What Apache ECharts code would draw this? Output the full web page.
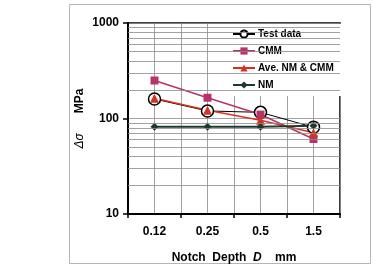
<!DOCTYPE html>
<html>
<head>
<meta charset="utf-8">
<script src="https://cdn.jsdelivr.net/npm/echarts@6/dist/echarts.min.js"></script>
<style>
  html, body { margin: 0; padding: 0; background: #fff; }
  #chart { width: 373px; height: 275px; }
</style>
</head>
<body>
<div id="chart"></div>
<script>
// data
var depths = ['0.12', '0.25', '0.5', '1.5'];
var testData = [160, 120, 116, 81];
var cmm = [250, 165, 110, 61];
var aveNmCmm = [163, 122, 96, 71];
var nm = [82, 82, 82, 84];
// minor log gridlines
var minorTicks = [20, 30, 40, 50, 60, 70, 80, 90, 200, 300, 400, 500, 600, 700, 800, 900];

var font = 'Arial, "Liberation Sans", sans-serif';

var myChart = echarts.init(document.getElementById('chart'));

var option = {
    animation: false,
    backgroundColor: '#fff',
    graphic: [{
        type: 'rect',
        shape: { x: 69.5, y: 4.5, width: 301, height: 259 },
        style: { fill: 'none', stroke: '#b5b5b5', lineWidth: 1 },
        z: -1
    }],
    grid: {
        left: 128, right: 33, top: 23, bottom: 61,
        show: true, borderColor: '#000', borderWidth: 1.5,
        containLabel: false
    },
    legend: {
        orient: 'vertical',
        left: 228, top: 24,
        padding: [5, 12, 6, 4],
        itemGap: 7,
        itemWidth: 22,
        itemHeight: 9,
        backgroundColor: '#fff',
        textStyle: { fontFamily: font, fontWeight: 'bold', fontSize: 10, color: '#000', padding: [0, 0, 0, -2] },
        data: ['Test data', 'CMM', 'Ave. NM & CMM', 'NM']
    },
    xAxis: [{
        type: 'category',
        data: depths,
        boundaryGap: true,
        axisLine: { lineStyle: { color: '#000', width: 2 } },
        axisTick: { show: true, length: 4, lineStyle: { color: '#000', width: 1.5 } },
        axisLabel: { fontFamily: font, fontWeight: 'bold', fontSize: 12, color: '#000', margin: 12 },
        splitLine: { show: false },
        name: '{b|Notch  Depth  }{i|D}{b|    mm}',
        nameLocation: 'middle',
        nameGap: 38,
        nameTextStyle: {
            rich: {
                b: { fontFamily: font, fontWeight: 'bold', fontSize: 12, color: '#000' },
                i: { fontFamily: font, fontWeight: 'bold', fontStyle: 'italic', fontSize: 12, color: '#000' }
            }
        }
    }, {
        // helper axis for the half-category vertical gridlines
        type: 'value',
        min: 0, max: 8, interval: 1,
        position: 'top',
        axisLine: { show: false },
        axisTick: { show: false },
        axisLabel: { show: false },
        splitLine: { show: true, lineStyle: { color: '#8a8a8a', width: 0.8 } }
    }],
    yAxis: {
        type: 'log',
        logBase: 10,
        min: 10, max: 1000,
        axisLine: { show: true, lineStyle: { color: '#000', width: 2 } },
        axisTick: { show: true, length: 5, lineStyle: { color: '#000', width: 1.5 } },
        axisLabel: {
            fontFamily: font, fontWeight: 'bold', fontSize: 12, color: '#000', margin: 9,
            formatter: function (v) { return String(Math.round(v)); }
        },
        splitLine: { show: true, lineStyle: { color: '#8a8a8a', width: 0.8 } },
        name: '{i|Δσ}      {b|MPa}',
        nameLocation: 'middle',
        nameMoveOverlap: false,
        nameGap: 42,
        nameTextStyle: {
            rich: {
                b: { fontFamily: font, fontWeight: 'bold', fontSize: 12, color: '#000' },
                i: { fontFamily: font, fontStyle: 'italic', fontSize: 12, color: '#000' }
            }
        }
    },
    series: [
        {
            name: 'Test data',
            type: 'line',
            data: testData,
            symbol: 'circle',
            symbolSize: 12,
            itemStyle: { color: '#fff', borderColor: '#000', borderWidth: 1.5 },
            lineStyle: { color: '#000', width: 1 },
            markLine: {
                silent: true,
                symbol: 'none',
                label: { show: false },
                lineStyle: { color: '#8a8a8a', width: 0.8, type: 'solid' },
                data: minorTicks.map(function (v) { return { yAxis: v }; })
            }
        },
        {
            name: 'CMM',
            type: 'line',
            data: cmm,
            symbol: 'rect',
            symbolSize: 8,
            itemStyle: { color: '#b8336a' },
            lineStyle: { color: '#b8336a', width: 1.5 }
        },
        {
            name: 'Ave. NM & CMM',
            type: 'line',
            data: aveNmCmm,
            symbol: 'triangle',
            symbolSize: 9,
            itemStyle: { color: '#d8321e' },
            lineStyle: { color: '#d8321e', width: 1.5 }
        },
        {
            name: 'NM',
            type: 'line',
            data: nm,
            symbol: 'diamond',
            symbolSize: 8,
            itemStyle: { color: '#1e3a2e' },
            lineStyle: { color: '#1e3a2e', width: 2.2 }
        }
    ]
};

myChart.setOption(option);
</script>
</body>
</html>
